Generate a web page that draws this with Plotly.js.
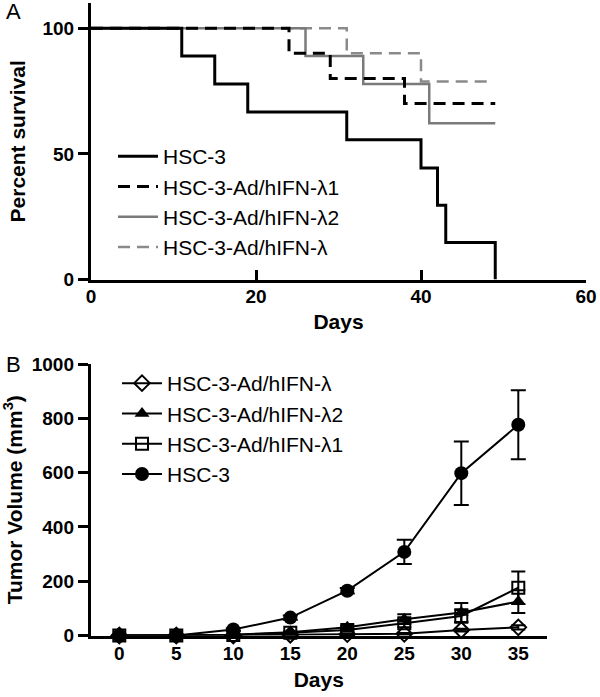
<!DOCTYPE html>
<html>
<head>
<meta charset="utf-8">
<script src="https://cdn.plot.ly/plotly-3.0.1.min.js"></script>
<style>html,body{margin:0;padding:0;background:#fff;} #chart{width:600px;height:697px;}</style>
</head>
<body>
<div id="chart"></div>
<script>
// ---------- Panel A: Kaplan-Meier survival ----------
const survNames = ["HSC-3", "HSC-3-Ad/hIFN-λ1", "HSC-3-Ad/hIFN-λ2", "HSC-3-Ad/hIFN-λ"];
const survDaysHSC3 = [0, 11, 15, 19, 31, 40, 42, 43, 49];
const survPctHSC3  = [100, 88.9, 77.8, 66.7, 55.6, 44.4, 29.6, 14.8, 0];
const survDaysL1 = [0, 24, 29, 38, 49];
const survPctL1  = [100, 90, 80, 70, 70];
const survDaysL2 = [0, 26, 33, 41, 49];
const survPctL2  = [100, 88.9, 77.8, 62.2, 62.2];
const survDaysL  = [0, 31, 40, 48.6];
const survPctL   = [100, 90, 78.8, 78.8];
const survXTicks = [0, 20, 40, 60];
const survYTicks = [0, 50, 100];

// ---------- Panel B: tumor volume ----------
const tvDays = [0, 5, 10, 15, 20, 25, 30, 35];
const tvNames = ["HSC-3-Ad/hIFN-λ", "HSC-3-Ad/hIFN-λ2", "HSC-3-Ad/hIFN-λ1", "HSC-3"];
const tvL    = [0, 0, 0, 3, 5, 6, 20, 30];
const tvLErr = [0, 0, 0, 1, 2, 3, 5, 8];
const tvL2    = [0, 0, 3, 12, 30, 60, 85, 125];
const tvL2Err = [0, 0, 1, 3, 6, 18, 35, 42];
const tvL1    = [0, 0, 2, 10, 20, 45, 72, 176];
const tvL1Err = [0, 0, 1, 3, 5, 15, 25, 60];
const tvHSC3    = [0, 0, 22, 66, 165, 308, 598, 776];
const tvHSC3Err = [0, 0, 5, 8, 10, 45, 117, 127];
const tvXTicks = [0, 5, 10, 15, 20, 25, 30, 35];
const tvYTicks = [0, 200, 400, 600, 800, 1000];

const FONT = "Liberation Sans, Arial, Helvetica, sans-serif";
const GREY = "#7a7a7a";

const traces = [
  {x: survDaysL, y: survPctL, name: survNames[3], mode: "lines", line: {shape: "hv", color: "#8a8a8a", width: 2.5, dash: "12px,7px"}, xaxis: "x", yaxis: "y", legend: "legend", legendrank: 4},
  {x: survDaysL2, y: survPctL2, name: survNames[2], mode: "lines", line: {shape: "hv", color: GREY, width: 2.5}, xaxis: "x", yaxis: "y", legend: "legend", legendrank: 3},
  {x: survDaysL1, y: survPctL1, name: survNames[1], mode: "lines", line: {shape: "hv", color: "#000", width: 3, dash: "12px,7px"}, xaxis: "x", yaxis: "y", legend: "legend", legendrank: 2},
  {x: survDaysHSC3, y: survPctHSC3, name: survNames[0], mode: "lines", line: {shape: "hv", color: "#000", width: 3}, xaxis: "x", yaxis: "y", legend: "legend", legendrank: 1},

  {x: tvDays, y: tvL, name: tvNames[0], mode: "lines+markers", cliponaxis: false,
   line: {color: "#000", width: 2}, marker: {symbol: "diamond-open", size: 12, color: "#000", line: {width: 2, color: "#000"}},
   error_y: {type: "data", array: tvLErr, color: "#000", thickness: 2, width: 7},
   xaxis: "x2", yaxis: "y2", legend: "legend2", legendrank: 1},
  {x: tvDays, y: tvL2, name: tvNames[1], mode: "lines+markers", cliponaxis: false,
   line: {color: "#000", width: 2}, marker: {symbol: "triangle-up", size: 13, color: "#000"},
   error_y: {type: "data", array: tvL2Err, color: "#000", thickness: 2, width: 7},
   xaxis: "x2", yaxis: "y2", legend: "legend2", legendrank: 2},
  {x: tvDays, y: tvL1, name: tvNames[2], mode: "lines+markers", cliponaxis: false,
   line: {color: "#000", width: 2}, marker: {symbol: "square-open", size: 12, color: "#000", line: {width: 2, color: "#000"}},
   error_y: {type: "data", array: tvL1Err, color: "#000", thickness: 2, width: 7},
   xaxis: "x2", yaxis: "y2", legend: "legend2", legendrank: 3},
  {x: tvDays, y: tvHSC3, name: tvNames[3], mode: "lines+markers", cliponaxis: false,
   line: {color: "#000", width: 2}, marker: {symbol: "circle", size: 14, color: "#000"},
   error_y: {type: "data", array: tvHSC3Err, color: "#000", thickness: 2, width: 7.5},
   xaxis: "x2", yaxis: "y2", legend: "legend2", legendrank: 4}
];

const tickFont = {family: FONT, size: 19, color: "#000", weight: "bold"};
const titleFont = {family: FONT, size: 21, color: "#000", weight: "bold"};
const legFont = {family: FONT, size: 21, color: "#000"};

const layout = {
  width: 600, height: 697,
  margin: {l: 0, r: 0, t: 0, b: 0},
  paper_bgcolor: "#fff", plot_bgcolor: "#fff",
  showlegend: true,
  xaxis: {
    domain: [91/600, 586/600], range: [0, 60], anchor: "y",
    tickvals: survXTicks, ticks: "inside", ticklen: 10, tickwidth: 3, tickcolor: "#000",
    showline: true, linewidth: 3, linecolor: "#000", showgrid: false, zeroline: false,
    tickfont: tickFont, ticklabelstandoff: -2, title: {text: "Days", font: titleFont, standoff: 8}
  },
  yaxis: {
    domain: [(697-279.6)/697, (697-3)/697], range: [0, 110], anchor: "x",
    tickvals: survYTicks, ticks: "outside", ticklen: 10, tickwidth: 3, tickcolor: "#000",
    showline: true, linewidth: 3, linecolor: "#000", showgrid: false, zeroline: false,
    tickfont: tickFont, title: {text: "Percent survival", font: titleFont, standoff: 12}
  },
  xaxis2: {
    domain: [90.8/600, 546.8/600], range: [-2.5, 37.5], anchor: "y2",
    tickvals: tvXTicks, ticks: "", ticklabelstandoff: -1,
    showline: true, linewidth: 3, linecolor: "#000", showgrid: false, zeroline: false,
    tickfont: tickFont, title: {text: "Days", font: titleFont, standoff: 10}
  },
  yaxis2: {
    domain: [(697-635.5)/697, (697-364)/697], range: [0, 1000], anchor: "x2",
    tickvals: tvYTicks, ticks: "outside", ticklen: 10, tickwidth: 3, tickcolor: "#000",
    showline: true, linewidth: 3, linecolor: "#000", showgrid: false, zeroline: false,
    tickfont: tickFont, title: {text: "Tumor Volume (mm<sup>3</sup>)", font: titleFont, standoff: 12}
  },
  legend: {
    x: 113/600, y: (697-136)/697, xanchor: "left", yanchor: "top", itemwidth: 40,
    font: legFont, bgcolor: "rgba(0,0,0,0)", traceorder: "normal", itemclick: false
  },
  legend2: {
    x: 117/600, y: (697-363)/697, xanchor: "left", yanchor: "top", itemwidth: 40,
    font: legFont, bgcolor: "rgba(0,0,0,0)", traceorder: "normal", itemclick: false
  },
  annotations: [
    {text: "A", xref: "paper", yref: "paper", x: 4/600, y: (697-12)/697, xanchor: "left", yanchor: "middle", showarrow: false, font: {family: FONT, size: 22, color: "#000"}},
    {text: "B", xref: "paper", yref: "paper", x: 4/600, y: (697-364)/697, xanchor: "left", yanchor: "middle", showarrow: false, font: {family: FONT, size: 22, color: "#000"}}
  ]
};

Plotly.newPlot("chart", traces, layout, {displayModeBar: false, staticPlot: true});
</script>
</body>
</html>
